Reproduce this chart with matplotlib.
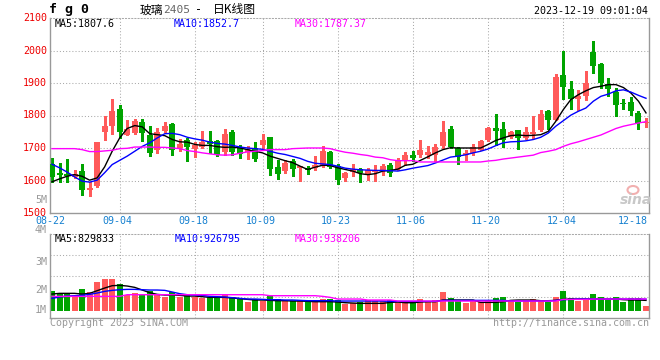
import numpy as np
import matplotlib.pyplot as plt
from matplotlib.patches import Ellipse

plt.rcParams['font.family'] = ['DejaVu Sans Mono', 'Noto Sans CJK SC']

W, H = 660, 360

# 日K数据 (08-22 ~ 12-19)
opens = [1651, 1622, 1620, 1612, 1628, 1570, 1583, 1748, 1769, 1821,
         1741, 1746, 1781, 1741, 1693, 1751, 1775, 1700, 1724, 1698,
         1703, 1720, 1723, 1687, 1750, 1702, 1687, 1700, 1708, 1733,
         1641, 1629, 1659, 1637, 1640, 1637, 1644, 1687, 1644, 1607,
         1626, 1634, 1618, 1627, 1631, 1647, 1634, 1661, 1677, 1679,
         1680, 1680, 1707, 1757, 1699, 1677, 1685, 1695, 1724, 1760,
         1757, 1733, 1754, 1730, 1744, 1754, 1815, 1787, 1925, 1882,
         1851, 1861, 1995, 1959, 1897, 1872, 1839, 1843, 1808, 1777]
highs = [1670, 1654, 1667, 1631, 1652, 1595, 1718, 1800, 1852, 1833,
         1787, 1790, 1790, 1767, 1762, 1780, 1777, 1729, 1731, 1718,
         1751, 1751, 1725, 1757, 1755, 1708, 1705, 1718, 1744, 1735,
         1664, 1664, 1667, 1646, 1644, 1675, 1705, 1690, 1651, 1626,
         1652, 1639, 1637, 1649, 1652, 1654, 1668, 1687, 1692, 1726,
         1707, 1713, 1782, 1769, 1703, 1695, 1711, 1726, 1765, 1806,
         1779, 1751, 1756, 1765, 1797, 1818, 1818, 1928, 2000, 1907,
         1879, 1936, 2030, 1962, 1915, 1885, 1851, 1856, 1815, 1793]
lows = [1596, 1594, 1595, 1608, 1555, 1552, 1580, 1724, 1743, 1731,
        1739, 1744, 1721, 1675, 1685, 1748, 1677, 1690, 1659, 1672,
        1700, 1685, 1675, 1680, 1680, 1668, 1665, 1659, 1700, 1618,
        1606, 1622, 1613, 1598, 1620, 1631, 1641, 1637, 1588, 1600,
        1613, 1595, 1603, 1598, 1618, 1613, 1631, 1649, 1659, 1672,
        1670, 1659, 1700, 1699, 1652, 1664, 1677, 1693, 1721, 1708,
        1703, 1731, 1698, 1728, 1731, 1751, 1760, 1785, 1851, 1821,
        1818, 1849, 1932, 1885, 1861, 1800, 1821, 1803, 1757, 1764]
closes = [1610, 1616, 1614, 1620, 1571, 1578, 1717, 1769, 1813, 1749,
          1757, 1782, 1746, 1686, 1749, 1769, 1693, 1713, 1703, 1708,
          1718, 1713, 1680, 1744, 1688, 1682, 1695, 1665, 1726, 1634,
          1620, 1654, 1634, 1644, 1632, 1647, 1690, 1641, 1603, 1622,
          1634, 1622, 1631, 1632, 1644, 1624, 1664, 1677, 1668, 1693,
          1689, 1703, 1750, 1703, 1673, 1685, 1702, 1721, 1762, 1751,
          1726, 1748, 1730, 1748, 1748, 1806, 1787, 1920, 1888, 1852,
          1861, 1900, 1951, 1900, 1882, 1831, 1835, 1813, 1777, 1780]

ma5 = [1596, 1605, 1613, 1618, 1613, 1601, 1608, 1642, 1690, 1731,
       1760, 1769, 1765, 1744, 1741, 1738, 1726, 1719, 1718, 1711,
       1708, 1708, 1704, 1702, 1703, 1700, 1695, 1690, 1685, 1675,
       1668, 1661, 1655, 1644, 1634, 1641, 1647, 1646, 1639, 1634,
       1629, 1621, 1618, 1621, 1629, 1631, 1635, 1647, 1650, 1662,
       1673, 1685, 1695, 1701, 1700, 1700, 1700, 1700, 1711, 1723,
       1731, 1738, 1740, 1738, 1739, 1741, 1751, 1782, 1818, 1849,
       1864, 1876, 1886, 1890, 1895, 1895, 1886, 1869, 1844, 1808]
ma10 = [1650, 1639, 1626, 1611, 1598, 1595, 1601, 1624, 1649, 1662,
        1675, 1690, 1705, 1716, 1731, 1744, 1745, 1741, 1733, 1728,
        1724, 1718, 1714, 1712, 1708, 1703, 1700, 1698, 1696, 1690,
        1684, 1680, 1674, 1668, 1659, 1653, 1651, 1649, 1644, 1638,
        1635, 1633, 1632, 1631, 1631, 1630, 1629, 1633, 1638, 1642,
        1646, 1654, 1663, 1672, 1675, 1679, 1685, 1690, 1697, 1707,
        1716, 1719, 1720, 1722, 1726, 1733, 1746, 1767, 1784, 1801,
        1813, 1823, 1844, 1859, 1866, 1876, 1879, 1872, 1862, 1853]
ma30 = [1698, 1698, 1698, 1698, 1695, 1689, 1689, 1691, 1693, 1698,
        1699, 1703, 1703, 1703, 1702, 1702, 1700, 1698, 1692, 1689,
        1685, 1682, 1679, 1678, 1679, 1684, 1688, 1690, 1692, 1695,
        1695, 1695, 1698, 1699, 1700, 1700, 1700, 1698, 1692, 1687,
        1684, 1680, 1677, 1672, 1670, 1664, 1661, 1661, 1661, 1657,
        1657, 1657, 1657, 1657, 1657, 1657, 1657, 1657, 1660, 1662,
        1666, 1669, 1672, 1675, 1678, 1686, 1690, 1695, 1705, 1713,
        1719, 1726, 1733, 1740, 1750, 1760, 1767, 1772, 1777, 1781]

# 成交量 (千手)
volumes = [1608, 1394, 1340, 1126, 1742, 1501, 2332, 2546, 2546, 2144,
           1260, 1394, 1260, 1554, 1260, 1072, 1528, 1126, 1260, 1126,
           1045, 1126, 1126, 1313, 1072, 911, 724, 911, 804, 1179,
           965, 777, 804, 858, 724, 724, 938, 938, 858, 536,
           643, 724, 858, 804, 804, 858, 724, 724, 724, 938,
           724, 858, 1528, 1045, 858, 643, 777, 724, 858, 1045,
           1126, 804, 724, 804, 938, 858, 724, 1126, 1581, 1045,
           804, 858, 1340, 1072, 858, 1072, 724, 992, 992, 375]
vol_ma5 = [1340, 1394, 1394, 1394, 1340, 1394, 1608, 1822, 2010, 2037,
           1983, 1876, 1662, 1447, 1313, 1260, 1260, 1233, 1179, 1179,
           1126, 1072, 1072, 1072, 1018, 965, 911, 858, 858, 831,
           804, 804, 777, 777, 750, 724, 724, 724, 697, 643,
           616, 590, 590, 590, 590, 670, 697, 643, 643, 697,
           724, 724, 858, 858, 858, 858, 858, 670, 670, 670,
           724, 831, 858, 858, 858, 804, 804, 831, 911, 938,
           938, 938, 938, 938, 938, 938, 884, 858, 858, 830]
vol_ma10 = [992, 1099, 1179, 1206, 1233, 1313, 1420, 1554, 1635, 1688,
            1715, 1715, 1688, 1662, 1662, 1635, 1501, 1367, 1286, 1260,
            1233, 1152, 1126, 1099, 1045, 992, 938, 938, 911, 884,
            884, 858, 858, 831, 804, 804, 804, 804, 777, 777,
            777, 777, 777, 777, 777, 750, 750, 750, 750, 750,
            750, 750, 831, 831, 831, 831, 831, 831, 831, 831,
            831, 777, 777, 777, 777, 777, 777, 831, 884, 911,
            938, 938, 938, 938, 938, 938, 938, 938, 938, 927]
vol_ma30 = [1152, 1152, 1152, 1152, 1152, 1152, 1152, 1152, 1152, 1152,
            1286, 1286, 1286, 1286, 1286, 1286, 1286, 1286, 1286, 1286,
            1286, 1286, 1286, 1286, 1286, 1286, 1286, 1286, 1286, 1206,
            1206, 1206, 1206, 1206, 1206, 1206, 1152, 1072, 938, 938,
            938, 938, 858, 858, 858, 858, 777, 777, 777, 777,
            777, 777, 777, 777, 777, 777, 777, 777, 777, 777,
            777, 777, 777, 777, 777, 777, 777, 777, 911, 911,
            911, 911, 938, 938, 938, 938, 938, 938, 938, 938]

date_ticks = [0, 9, 19, 28, 38, 48, 58, 68, 78]
date_labels = ['08-22', '09-04', '09-18', '10-09', '10-23',
               '11-06', '11-20', '12-04', '12-18']
price_ticks = [1500, 1600, 1700, 1800, 1900, 2000, 2100]

RED = '#ff5a5a'
GREEN = '#00a400'
GRID = '#aaaaaa'
BORDER = '#999999'
GREY = '#999999'

x = np.arange(len(closes))
o = np.array(opens)
c = np.array(closes)
up = c >= o
cols = [RED if u else GREEN for u in up]

fig = plt.figure(figsize=(W / 100, H / 100), dpi=100)
fig.patch.set_facecolor('white')


def box(left, top, right, bottom):
    return [left / W, 1 - bottom / H, (right - left) / W, (bottom - top) / H]


def ftext(px, py, s, **kw):
    kw.setdefault('va', 'center')
    kw.setdefault('fontsize', 7.2)
    fig.text(px / W, 1 - py / H, s, **kw)


xlim = (-0.27, 79.4)

# ---- K线 ----
ax = fig.add_axes(box(50, 18, 649, 213))
ax.set_xlim(*xlim)
ax.set_ylim(1500, 2100)
for p in price_ticks[1:-1]:
    ax.axhline(p, color=GRID, lw=0.75, ls=(0, (1, 2)), zorder=0)
for t in date_ticks[1:-1]:
    ax.axvline(t, color=GRID, lw=0.75, ls=(0, (1, 2)), zorder=0)

ax.vlines(x, lows, highs, colors=cols, lw=1, antialiased=False, zorder=2)
body_h = np.maximum(np.abs(c - o), 2)
ax.bar(x, body_h, bottom=np.minimum(o, c), width=0.8, color=cols,
       linewidth=0, zorder=3)

ax.plot(x, ma5, color='black', lw=1, zorder=4)
ax.plot(x, ma10, color='#0000ff', lw=1, zorder=4)
ax.plot(x, ma30, color='#ff00ff', lw=1, zorder=4)

# ---- 成交量 ----
av = fig.add_axes(box(50, 234, 649, 318))
av.set_xlim(*xlim)
vlo, vhi = -587, 6167
av.set_ylim(vlo, vhi)
for f in (0.25, 0.5, 0.75):
    av.axhline(vlo + f * (vhi - vlo), color=GRID, lw=0.75, ls=(0, (1, 2)), zorder=0)
for t in date_ticks[1:-1]:
    av.axvline(t, color=GRID, lw=0.75, ls=(0, (1, 2)), zorder=0)
av.bar(x, volumes, width=0.8, color=cols, linewidth=0, zorder=2)
av.plot(x, vol_ma5, color='black', lw=1, zorder=4)
av.plot(x, vol_ma10, color='#0000ff', lw=1, zorder=4)
av.plot(x, vol_ma30, color='#ff00ff', lw=1, zorder=4)

for a in (ax, av):
    a.set_xticks([])
    a.set_yticks([])
    for s in ('left', 'right', 'bottom'):
        a.spines[s].set_color(BORDER)
        a.spines[s].set_linewidth(1)
    a.spines['top'].set_color(GRID)
    a.spines['top'].set_linewidth(0.75)
    a.spines['top'].set_linestyle((0, (1, 2)))

# ---- 文字 ----
ftext(49, 10, 'f g 0', fontsize=9.5, fontweight='bold')
ftext(140, 10, '玻璃', fontsize=8.5, family=['Noto Sans CJK SC'])
ftext(163, 10, '2405', fontsize=8, color='#666666')
ftext(195, 10, '-', fontsize=8.5)
ftext(213, 10, '日K线图', fontsize=8.5, family=['Noto Sans CJK SC'])
ftext(648, 11.5, '2023-12-19 09:01:04', ha='right')

for p in price_ticks:
    py = 213 - (p - 1500) * 195 / 600
    ftext(47, py, str(p), ha='right', color='#ee0000')
ftext(47, 200, '5M', ha='right', color=GREY)

for t, lab in zip(date_ticks, date_labels):
    px = 52 + t * 7.52
    if lab == '12-18':
        ftext(648, 221.5, lab, ha='right', color='#1580d0')
    else:
        ftext(px - 2, 221.5, lab, ha='center', color='#1580d0')

ftext(55, 24, 'MA5:1807.6', color='black')
ftext(174, 24, 'MA10:1852.7', color='#0000ff')
ftext(295, 24, 'MA30:1787.37', color='#ff00ff')

ftext(55, 238.5, 'MA5:829833', color='black')
ftext(175, 238.5, 'MA10:926795', color='#0000ff')
ftext(295, 238.5, 'MA30:938206', color='#ff00ff')

for lab, py in (('4M', 230.5), ('3M', 262), ('2M', 290), ('1M', 310)):
    ftext(47, py, lab, ha='right', color=GREY)

ftext(50, 323.5, 'Copyright 2023 SINA.COM', color=GREY)
ftext(649, 323.5, 'http://finance.sina.com.cn', ha='right', color=GREY)

# sina 水印
fig.patches.append(Ellipse((633 / W, 1 - 190 / H), 11 / W, 8 / H,
                           transform=fig.transFigure, facecolor='none',
                           edgecolor='#f2b0b0', lw=1.5))
ftext(636, 200, 'sina', ha='center', fontsize=10, style='italic',
      fontweight='bold', color='#c8c8c8', family=['DejaVu Sans'])

fig.savefig('out.png', dpi=100)
